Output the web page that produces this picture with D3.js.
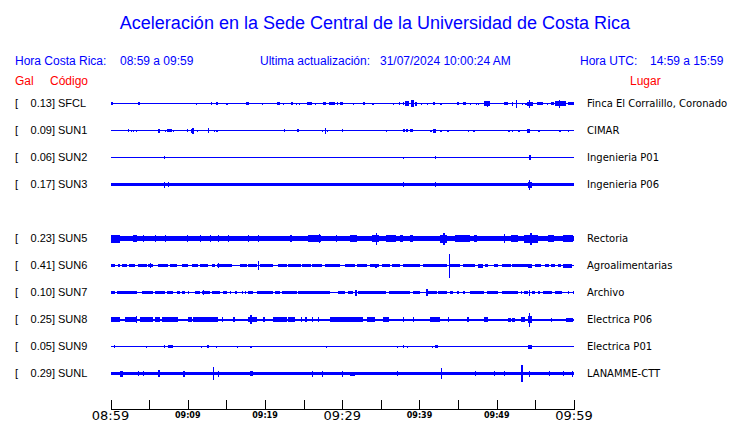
<!DOCTYPE html>
<html><head><meta charset="utf-8">
<script src="https://cdn.jsdelivr.net/npm/d3@7"></script>
<style>html,body{margin:0;padding:0;background:#fff;}svg{display:block;}</style>
</head><body>
<script>
// ---- data ----
const codes = ["SFCL","SUN1","SUN2","SUN3","SUN5","SUN6","SUN7","SUN8","SUN9","SUNL"];
const galPeaks = [0.13,0.09,0.06,0.17,0.23,0.41,0.10,0.25,0.05,0.29];
const places = ["Finca El Corralillo, Coronado","CIMAR","Ingenieria P01","Ingenieria P06","Rectoria","Agroalimentarias","Archivo","Electrica P06","Electrica P01","LANAMME-CTT"];
const rowSlots = [0,1,2,3,5,6,7,8,9,10];
// baseline half-amplitude of each trace (relative units)
const baseAmps = [0.5,0.5,0.5,1.9,2.7,0.6,0.6,1.0,0.5,1.7];
// bursts: [start minute, end minute, half amplitude]
const burstsSFCL = [[0,0.3,1.2],[3.6,3.7,1.5],[11.1,11.2,1],[13.0,13.1,1.5],[13.7,13.8,1.5],[15.0,15.1,1],[17.6,17.9,1.2],[19.6,19.7,1],[21.6,22.0,1.2],[22.3,22.4,1],[23.4,23.6,1.5],[24.0,24.1,1],[24.4,24.5,1],[25.5,26.1,1.8],[26.5,26.6,1],[27.5,27.9,1.8],[28.3,29.0,1.8],[29.3,29.5,1.2],[29.7,30.1,1.8],[31.4,31.5,1],[32.7,33.0,1.2],[33.9,34.0,1],[36.6,36.7,1],[37.3,37.4,1.2],[37.8,38.0,1.5],[38.1,38.7,2.5],[38.9,39.3,3.5],[39.4,39.7,2],[40.2,40.3,1],[41.0,41.1,1],[41.7,42.0,1.5],[42.7,42.8,1],[44.9,45.0,1.2],[45.6,46.0,1.2],[46.5,46.6,1],[47.3,47.4,1],[47.6,47.7,1],[48.3,49.1,2.5],[48.7,48.9,3],[50.9,51.5,1.5],[52.0,52.1,2],[52.5,52.6,4],[53.3,53.4,1],[53.7,53.8,1],[53.9,54.7,2],[54.2,54.3,4],[55.2,56.0,1.5],[56.5,56.6,1],[57.0,57.4,1.2],[57.6,58.9,2.5],[58.0,58.2,4],[59.2,60,1.5]];
const burstsSUN1 = [[2.3,2.4,1.2],[2.6,2.7,1],[2.9,3.0,1],[3.3,3.4,1],[6.2,6.3,2],[7.0,7.1,1],[7.3,8.0,1.5],[8.1,8.2,1],[9.9,10.0,1.5],[10.4,10.7,2],[10.6,10.7,3],[11.2,11.3,1],[12.6,12.7,2.5],[13.4,13.5,1],[13.7,13.8,1],[22.4,22.6,1.5],[24.2,24.3,1.2],[27.4,27.5,1],[27.8,27.9,3],[28.0,28.1,1],[30.0,30.1,1.2],[33.9,34.0,0.8],[35.6,35.8,1],[37.8,38.1,1.5],[38.3,38.4,1.5],[38.8,39.1,1.5],[41.4,41.5,1],[41.7,42.1,2],[42.7,42.8,1],[43.6,43.7,1],[46.3,46.4,1],[46.9,47.0,1],[47.0,47.1,1],[51.5,51.6,1],[52.0,52.1,1],[52.8,52.9,1],[53.9,54.3,2],[55.4,55.5,1],[58.1,58.2,1],[59.2,59.3,1]];
const burstsSUN2 = [[6.93,7.0,1.5],[37.8,37.9,1],[42.0,42.1,1.5],[54.2,54.4,2.5]];
const burstsSUN3 = [[6.93,7.0,3],[7.45,7.5,2.5],[37.8,37.9,2.5],[42.0,42.1,2.5],[54.0,54.6,3],[54.2,54.3,5]];
const burstsSUN5 = [[0,1.2,4],[2.9,3.4,3.6],[4.2,4.3,3.4],[5.7,5.8,3.4],[7.0,7.1,3.4],[9.9,10.0,3.8],[11.6,11.7,3.4],[12.9,13.0,3.4],[13.9,14.0,3.4],[15.2,15.3,3.4],[17.8,17.9,3.8],[19.1,19.2,3.4],[23.3,23.4,3.8],[25.6,27.3,3.3],[27.0,27.1,4.2],[29.2,29.3,3.4],[31.0,31.9,3.3],[33.9,34.7,3.4],[34.4,34.5,6],[35.6,36.9,3.3],[37.5,37.9,3.3],[38.8,39.2,3.3],[42.7,43.6,4],[43.1,43.2,6],[44.6,46.6,3.5],[47.0,47.5,3.1],[50.9,51.0,4.2],[51.8,52.7,3.3],[53.5,55.3,4],[54.3,54.5,6],[56.6,57.4,3.3],[58.6,59.9,3.1]];
const burstsSUN6 = [[0,0.6,1.5],[0.97,1.23,1.5],[1.49,2.14,1.5],[2.4,3.18,1.5],[3.56,4.73,1.5],[4.86,5.5,1.5],[5.1,5.2,2.5],[6.16,7.45,1.5],[7.71,8.62,1.5],[9.27,10.0,1.5],[10.56,11.3,1.5],[11.6,12.6,1.5],[13.15,13.54,1.5],[13.8,15.75,1.5],[13.9,14.0,2.5],[16.8,17.7,1.5],[17.8,19.0,1.5],[19.1,19.2,4.5],[19.4,21.1,1.5],[21.7,22.9,1.5],[23.0,24.6,1.5],[24.8,25.9,1.5],[26.1,27.4,1.5],[27.8,29.7,1.5],[30.4,31.0,1.5],[31.0,31.6,1.5],[31.9,33.2,1.5],[33.6,34.7,1.5],[34.3,34.4,2],[35.2,36.2,1.5],[36.5,37.5,1.5],[37.9,40.1,1.5],[40.4,41.7,1.5],[41.8,43.6,1.5],[43.8,43.9,12],[44.0,45.3,1.5],[45.6,47.2,1.5],[47.6,48.2,2],[48.5,48.9,1.5],[49.6,50.1,1.5],[50.7,51.8,1.5],[52.0,54.0,1.5],[54.1,54.6,2],[55.0,55.7,1.5],[56.3,56.7,1.5],[57.0,57.6,1.5],[57.9,58.3,1.5],[58.6,59.8,2]];
const burstsSUN7 = [[0,0.6,1.5],[0.84,3.43,1.5],[4.08,5.5,1.5],[5.77,7.06,1.5],[7.32,8.1,1.5],[8.62,9.0,1.5],[9.27,9.65,1.5],[10.0,10.1,1.5],[10.95,11.6,1.5],[11.86,12.9,1.5],[12.0,12.1,2.5],[13.15,14.2,1.5],[14.58,15.1,1.5],[15.5,15.6,1.5],[16.1,16.4,1.5],[17.0,17.1,1.5],[17.4,17.5,1.5],[17.8,18.5,1.5],[19.0,21.1,1.5],[21.3,22.0,1.5],[22.2,24.2,1.5],[24.3,28.4,1.5],[29.4,30.4,1.5],[30.8,30.9,1.5],[31.0,31.4,1.5],[31.7,31.8,3],[32.1,35.6,1.5],[36.0,38.8,1.5],[39.2,40.1,1.5],[40.9,41.0,3.5],[41.1,42.3,1.5],[42.4,43.6,1.5],[44.0,44.4,1.5],[44.9,45.0,1.5],[45.6,45.9,1.5],[46.6,48.3,1.5],[48.8,50.1,1.5],[50.7,51.4,1.5],[51.5,52.7,1.5],[53.1,53.2,1.5],[53.5,54.0,1.5],[54.2,54.3,3],[54.6,55.0,1.5],[55.4,55.5,1.5],[56.0,57.2,1.5],[57.6,58.5,1.5],[59.2,59.3,1.5],[59.9,60,1.5]];
const burstsSUN8 = [[0,1.23,2.6],[1.88,3.43,2.6],[3.3,3.4,3.5],[3.82,5.5,2.6],[5.77,6.41,2.6],[6.67,8.75,2.6],[10.0,10.56,2.6],[10.7,13.9,2.6],[14.45,14.5,2.6],[15.9,16.0,2.6],[17.8,19.0,2.6],[18.1,18.2,4.5],[19.8,19.9,2.6],[21.1,22.9,2.6],[23.0,23.9,2.6],[24.6,24.7,2.6],[25.2,25.5,2.6],[26.1,26.2,2.6],[26.8,26.9,2.6],[28.4,31.0,2.3],[31.0,32.7,2.3],[33.2,34.3,2.3],[35.3,36.0,2.3],[37.8,37.9,2.5],[39.1,39.2,2.5],[41.4,42.7,2.3],[43.7,43.8,2.5],[46.2,46.3,2.5],[48.3,48.9,2.3],[51.4,51.8,2],[52.0,52.4,2],[53.1,53.7,2.3],[54.0,54.6,3.2],[54.2,54.3,7],[57.0,57.1,2],[58.9,59.9,2]];
const burstsSUN9 = [[0.45,0.5,1.5],[4.6,4.65,1],[6.93,7.0,1.5],[7.45,8.1,1.5],[11.7,11.8,1],[12.5,12.8,1.5],[13.67,13.7,1],[16.4,16.5,1],[18.1,18.2,1],[27.9,28.0,1],[37.1,37.2,1],[37.8,37.9,1.5],[38.4,38.5,1],[41.6,41.7,1],[42.0,42.4,1.5],[54.0,54.6,2]];
const burstsSUNL = [[1.23,1.62,3],[3.56,3.6,2.5],[4.21,4.3,2.5],[6.16,6.41,3.5],[9.4,9.65,3],[13.3,13.4,6.5],[13.9,14.0,3],[18.1,18.5,2.5],[26.1,26.2,3],[27.4,27.5,3],[30.0,30.1,3],[31.0,31.7,2],[37.1,37.2,2.5],[42.8,42.9,5.5],[47.2,47.3,2.5],[49.6,49.7,2.5],[50.9,51.0,2.5],[53.2,53.3,8.5],[54.2,54.3,3],[56.7,56.8,2.5],[58.6,58.7,2.5],[59.7,59.8,3]];
const burstLists = [burstsSFCL,burstsSUN1,burstsSUN2,burstsSUN3,burstsSUN5,burstsSUN6,burstsSUN7,burstsSUN8,burstsSUN9,burstsSUNL];
// axis
const tickMinutes = [0,5,10,15,20,25,30,35,40,45,50,55,60];
const labelMinutes = [0,10,20,30,40,50,60];
const tickLabels = ["08:59","09:09","09:19","09:29","09:39","09:49","09:59"];
const bigLabelMinutes = [0,30,60];
// header texts
const titleText = "Aceleración en la Sede Central de la Universidad de Costa Rica";
const horaCR = "08:59 a 09:59";
const updated = "31/07/2024 10:00:24 AM";
const horaUTC = "14:59 a 15:59";

// ---- drawing ----
const W = 740, H = 423;
const blue = "#0000ff", red = "#ff0000";
const svg = d3.select("body").append("svg").attr("width", W).attr("height", H);

const x = d3.scaleLinear().domain([0, 60]).range([110.5, 574]);
const yRow = d3.scaleLinear().domain([0, 10]).range([103.5, 373.5]);
const amp = d3.scaleLinear().domain([0, 1]).range([0, 1]);

const sans = "'Liberation Sans', Arial, sans-serif";
const deja = "'DejaVu Sans', sans-serif";

svg.append("text").attr("x", 375).attr("y", 29).attr("text-anchor", "middle")
  .attr("font-family", sans).attr("font-size", 18).attr("fill", blue).text(titleText);

const hdr = svg.append("g").attr("font-family", sans).attr("font-size", 12).attr("fill", blue);
hdr.append("text").attr("x", 15).attr("y", 65).text("Hora Costa Rica:");
hdr.append("text").attr("x", 120).attr("y", 65).text(horaCR);
hdr.append("text").attr("x", 260).attr("y", 65).text("Ultima actualización:");
hdr.append("text").attr("x", 380).attr("y", 65).text(updated);
hdr.append("text").attr("x", 580).attr("y", 65).text("Hora UTC:");
hdr.append("text").attr("x", 650).attr("y", 65).text(horaUTC);

const red_g = svg.append("g").attr("font-family", sans).attr("font-size", 12).attr("fill", red);
red_g.append("text").attr("x", 15).attr("y", 85).text("Gal");
red_g.append("text").attr("x", 50).attr("y", 85).text("Código");
red_g.append("text").attr("x", 630).attr("y", 85).text("Lugar");

// rows
const rows = svg.selectAll("g.row").data(codes).join("g").attr("class", "row");
rows.each(function(code, i) {
  const g = d3.select(this);
  const cy = yRow(rowSlots[i]);
  const lab = g.append("g").attr("font-family", sans).attr("font-size", 11).attr("fill", "#000");
  lab.append("text").attr("x", 15).attr("y", cy + 3.5).text("[");
  lab.append("text").attr("x", 52).attr("y", cy + 3.5).attr("text-anchor", "end").text(galPeaks[i].toFixed(2));
  lab.append("text").attr("x", 52).attr("y", cy + 3.5).text("]");
  lab.append("text").attr("x", 58).attr("y", cy + 3.5).text(code);
  g.append("text").attr("x", 587).attr("y", cy + 3.5).attr("font-family", deja).attr("font-size", 10)
    .attr("fill", "#000").text(places[i]);

  const tr = g.append("g").attr("fill", blue).attr("shape-rendering", "crispEdges");
  const b = Math.max(0.5, amp(baseAmps[i]));
  tr.append("rect").attr("x", x(0)).attr("width", x(60) - x(0))
    .attr("y", cy - b).attr("height", 2 * b);
  tr.selectAll("rect.burst").data(burstLists[i]).join("rect").attr("class", "burst")
    .attr("x", d => x(d[0]))
    .attr("width", d => Math.max(1.2, x(d[1]) - x(d[0])))
    .attr("y", d => cy - amp(d[2]))
    .attr("height", d => 2 * amp(d[2]));
});

// time axis
const ax = svg.append("g").attr("shape-rendering", "crispEdges");
ax.append("line").attr("x1", x(0)).attr("x2", x(60)).attr("y1", 409.5).attr("y2", 409.5).attr("stroke", "#000");
ax.selectAll("line.tk").data(tickMinutes).join("line").attr("class", "tk")
  .attr("x1", d => Math.round(x(d)) + 0.5).attr("x2", d => Math.round(x(d)) + 0.5)
  .attr("y1", 400).attr("y2", 409.5).attr("stroke", "#000");
svg.selectAll("text.tl").data(labelMinutes).join("text").attr("class", "tl")
  .attr("x", d => x(d)).attr("text-anchor", "middle")
  .attr("y", d => bigLabelMinutes.includes(d) ? 420 : 418)
  .attr("font-family", deja)
  .attr("font-size", d => bigLabelMinutes.includes(d) ? 13 : 8)
  .attr("font-weight", d => bigLabelMinutes.includes(d) ? "normal" : "bold")
  .attr("fill", "#000")
  .text((d, i) => tickLabels[i]);
</script>
</body></html>
